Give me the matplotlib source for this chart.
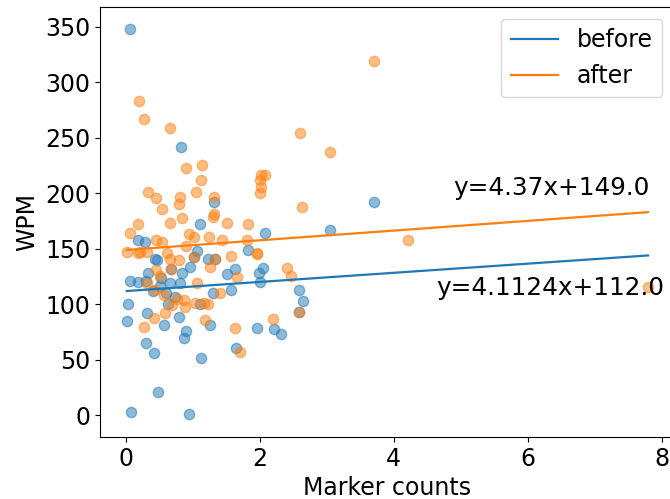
import numpy as np
import matplotlib
matplotlib.use("Agg")
from matplotlib import pyplot as plt

# marker counts / WPM, "before" series
before_x = [0.06, 0.07, 0.94, 0.47, 0.41, 0.30, 1.12, 0.02, 0.03, 0.06, 0.57, 0.31,
            0.79, 0.86, 0.89, 1.26, 1.64, 1.95, 2.21, 2.31, 2.59, 2.64, 2.59, 1.57,
            1.51, 1.62, 1.98, 2.04, 2.00, 1.30, 1.82, 1.06, 1.23, 1.33, 0.96, 0.83,
            0.67, 0.50, 0.32, 0.17, 0.30, 0.66, 0.81, 0.46, 0.60, 0.62, 1.10, 0.82,
            1.31, 1.11, 2.07, 3.04, 3.70, 0.43, 1.01, 0.17, 0.28, 0.52, 0.40, 0.73]
before_y = [348, 3, 1.5, 21, 56, 65, 52, 85, 100, 121, 81, 92,
            89, 70, 76, 81, 61, 79, 78, 73, 113, 103, 93, 113,
            127, 132, 128, 133, 120, 110, 149, 148, 141, 141, 134, 128,
            132, 117, 128, 120, 121, 119, 119, 140, 110, 100, 100, 242,
            192, 172, 164, 167, 192, 141, 143, 158, 156, 124, 112, 107]

# "after" series
after_x = [0.19, 0.27, 0.66, 0.90, 1.14, 1.12, 1.05, 0.32, 0.45, 0.53, 0.81, 0.79,
           1.31, 0.84, 0.65, 0.17, 0.06, 1.32, 1.30, 1.51, 1.82, 2.02, 2.07, 2.00,
           2.01, 2.00, 2.60, 2.63, 0.94, 1.01, 1.24, 1.43, 1.80, 1.96, 1.57, 0.90,
           0.01, 0.20, 0.31, 0.44, 0.53, 0.61, 1.33, 0.66, 0.79, 1.95, 0.44, 0.67,
           1.26, 1.66, 2.40, 2.46, 1.06, 1.41, 0.31, 0.43, 0.56, 0.68, 0.76, 0.86,
           0.88, 1.03, 1.16, 1.22, 0.41, 0.58, 0.26, 1.18, 1.63, 2.20, 1.70, 2.59,
           3.70, 3.04, 4.21, 7.80, 0.18, 0.50, 1.01]
after_y = [283, 267, 259, 223, 226, 212, 201, 201, 196, 186, 197, 190,
           197, 178, 173, 172, 164, 181, 179, 173, 172, 217, 217, 212,
           206, 200, 254, 188, 163, 161, 161, 158, 158, 146, 144, 153,
           147, 147, 147, 158, 156, 146, 141, 141, 140, 145, 131, 132,
           134, 125, 133, 126, 119, 110, 119, 113, 108, 99, 105, 104,
           98, 101, 101, 100, 88, 92, 80, 86, 79, 87, 57, 93,
           319, 237, 158, 116, 146, 126, 143]

# fitted lines as printed on the chart: (slope, intercept)
before_fit = (4.1124, 112.0)
after_fit = (4.37, 149.0)

plt.rcParams["font.size"] = 17

fig = plt.figure(figsize=(6.7, 4.99), dpi=100)
ax = fig.add_axes([0.1493, 0.1242, 0.857, 0.862])

c_before, c_after = "#1f77b4", "#ff7f0e"
ax.scatter(before_x, before_y, s=55, color=c_before, alpha=0.5)
ax.scatter(after_x, after_y, s=55, color=c_after, alpha=0.5)

xs = np.array([min(before_x + after_x), max(before_x + after_x)])
ax.plot(xs, before_fit[0] * xs + before_fit[1], color=c_before, lw=1.6, label="before")
ax.plot(xs, after_fit[0] * xs + after_fit[1], color=c_after, lw=1.6, label="after")

ax.text(6.35, 205, f"y={after_fit[0]}x+{after_fit[1]}", ha="center", va="center",
        fontsize=17.8)
ax.text(6.33, 114.5, f"y={before_fit[0]}x+{before_fit[1]}", ha="center", va="center",
        fontsize=17.8)

ax.set_xlim(-0.39, 8.19)
ax.set_ylim(-19.5, 368)
ax.set_xticks([0, 2, 4, 6, 8])
ax.set_yticks(range(0, 351, 50))
ax.set_xlabel("Marker counts")
ax.set_ylabel("WPM")
ax.legend(loc="upper right")

fig.savefig("out.png", dpi=100)
